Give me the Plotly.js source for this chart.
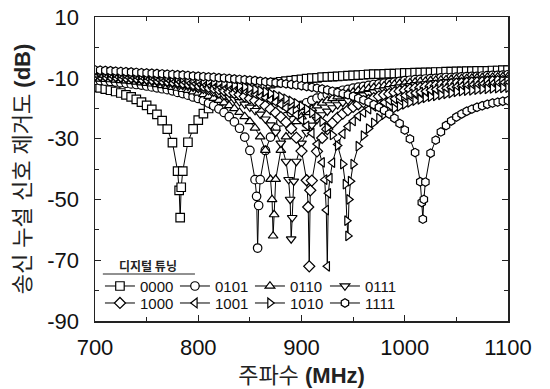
<!DOCTYPE html>
<html><head><meta charset="utf-8">
<script src="https://cdn.plot.ly/plotly-3.0.1.min.js"></script>
<style>html,body{margin:0;padding:0;background:#fff;}#chart{width:550px;height:389px;}</style>
</head><body><div id="chart"></div>
<script>
// Shared frequency grid (MHz)
const freq = [700,705,710,715,720,725,730,735,740,745,750,755,760,765,770,775,780,785,790,795,
800,805,810,815,820,825,830,835,840,845,850,855,860,865,870,875,880,885,890,895,
900,905,910,915,920,925,930,935,940,945,950,955,960,965,970,975,980,985,990,995,
1000,1005,1010,1015,1020,1025,1030,1035,1040,1045,1050,1055,1060,1065,1070,1075,1080,1085,1090,1095,1100];

const s0000 = [-13.1,-13.3,-13.7,-14.1,-14.5,-15.0,-15.6,-16.3,-17.1,-18.0,-19.1,-20.4,-22.0,-24.1,-26.9,-31.3,-40.7,-40.7,-31.2,-26.8,
-23.9,-21.8,-20.1,-18.7,-17.6,-16.6,-15.8,-15.1,-14.5,-13.9,-13.4,-13.0,-12.6,-12.2,-11.9,-11.6,-11.3,-11.1,-10.9,-10.7,
-10.5,-10.3,-10.1,-10.0,-9.8,-9.7,-9.6,-9.5,-9.4,-9.3,-9.2,-9.1,-9.0,-8.9,-8.8,-8.8,-8.7,-8.6,-8.6,-8.5,
-8.4,-8.4,-8.3,-8.3,-8.2,-8.2,-8.1,-8.1,-8.0,-8.0,-7.9,-7.9,-7.8,-7.8,-7.7,-7.7,-7.7,-7.6,-7.6,-7.5,-7.5];
const s0101 = [-10.8,-10.9,-11.1,-11.2,-11.4,-11.6,-11.8,-12.0,-12.2,-12.4,-12.7,-13.0,-13.3,-13.6,-13.9,-14.3,-14.8,-15.2,-15.7,-16.3,
-16.8,-17.5,-18.3,-19.2,-20.2,-21.4,-22.8,-24.5,-26.6,-29.5,-33.9,-43.5,-43.5,-33.9,-29.5,-26.6,-24.5,-22.8,-21.4,-20.2,
-19.1,-18.2,-17.4,-16.7,-16.1,-15.5,-15.0,-14.6,-14.1,-13.8,-13.4,-13.1,-12.8,-12.5,-12.2,-12.0,-11.8,-11.6,-11.4,-11.2,
-10.9,-10.8,-10.6,-10.5,-10.4,-10.3,-10.2,-10.0,-9.9,-9.9,-9.8,-9.7,-9.6,-9.5,-9.5,-9.4,-9.3,-9.2,-9.2,-9.1,-9.0];
const s0110 = [-10.2,-10.4,-10.5,-10.6,-10.7,-10.9,-11.0,-11.2,-11.4,-11.6,-11.8,-12.0,-12.2,-12.5,-12.8,-13.1,-13.4,-13.8,-14.1,-14.6,
-15.0,-15.5,-16.1,-16.7,-17.4,-18.2,-19.1,-20.1,-21.3,-22.7,-24.4,-26.5,-29.4,-33.8,-43.4,-43.4,-33.8,-29.4,-26.5,-24.4,
-22.8,-21.4,-20.2,-19.2,-18.3,-17.5,-16.8,-16.2,-15.6,-15.1,-14.7,-14.2,-13.9,-13.5,-13.2,-12.9,-12.6,-12.3,-12.1,-11.9,
-11.8,-11.6,-11.4,-11.2,-11.1,-10.9,-10.8,-10.7,-10.6,-10.5,-10.3,-10.2,-10.2,-10.1,-10.0,-9.9,-9.8,-9.8,-9.7,-9.6,-9.6];
const s0111 = [-9.6,-9.7,-9.8,-9.9,-10.0,-10.2,-10.3,-10.4,-10.6,-10.8,-10.9,-11.1,-11.3,-11.5,-11.7,-12.0,-12.3,-12.5,-12.8,-13.1,
-13.5,-13.8,-14.2,-14.7,-15.3,-15.8,-16.4,-17.1,-17.9,-18.7,-19.7,-20.8,-22.0,-23.6,-25.5,-27.9,-31.5,-37.5,-63.0,-37.5,
-31.5,-28.0,-25.6,-23.7,-22.2,-21.0,-19.9,-18.9,-18.1,-17.4,-16.7,-16.1,-15.7,-15.2,-14.7,-14.3,-14.0,-13.6,-13.3,-13.0,
-12.8,-12.6,-12.3,-12.1,-12.0,-11.8,-11.6,-11.5,-11.3,-11.2,-11.1,-10.9,-10.9,-10.7,-10.6,-10.5,-10.5,-10.4,-10.3,-10.3,-10.2];
const s1000 = [-9.0,-9.1,-9.2,-9.3,-9.4,-9.5,-9.7,-9.8,-9.9,-10.1,-10.2,-10.4,-10.5,-10.7,-10.9,-11.1,-11.3,-11.6,-11.8,-12.1,
-12.3,-12.6,-13.0,-13.3,-13.7,-14.1,-14.6,-15.0,-15.5,-16.1,-16.8,-17.5,-18.3,-19.2,-20.3,-21.5,-22.9,-24.6,-26.7,-29.7,
-34.1,-43.7,-43.8,-34.2,-29.8,-26.9,-24.8,-23.1,-21.8,-20.6,-19.6,-18.7,-18.0,-17.3,-16.7,-16.1,-15.6,-15.3,-14.8,-14.4,
-14.1,-13.8,-13.5,-13.3,-13.0,-12.8,-12.6,-12.4,-12.3,-12.1,-11.9,-11.8,-11.7,-11.6,-11.5,-11.4,-11.3,-11.2,-11.1,-11.1,-11.0];
const s1001 = [-8.5,-8.6,-8.7,-8.8,-8.9,-9.0,-9.1,-9.2,-9.3,-9.4,-9.6,-9.7,-9.9,-10.0,-10.2,-10.4,-10.6,-10.8,-11.0,-11.2,
-11.4,-11.6,-11.9,-12.2,-12.5,-12.8,-13.1,-13.5,-13.8,-14.3,-14.8,-15.3,-15.9,-16.5,-17.2,-18.0,-18.8,-19.9,-21.0,-22.2,
-23.9,-25.8,-28.2,-31.8,-37.8,-72.0,-37.9,-31.9,-28.4,-26.0,-24.2,-22.6,-21.4,-20.3,-19.4,-18.6,-18.1,-17.4,-16.9,-16.3,
-15.8,-15.3,-15.0,-14.7,-14.4,-14.1,-13.8,-13.6,-13.4,-13.2,-13.0,-12.8,-12.7,-12.6,-12.5,-12.3,-12.2,-12.1,-12.0,-11.9,-11.8];
const s1010 = [-8.0,-8.1,-8.2,-8.3,-8.4,-8.5,-8.6,-8.7,-8.8,-9.0,-9.1,-9.2,-9.3,-9.5,-9.6,-9.8,-9.9,-10.1,-10.3,-10.5,
-10.7,-10.9,-11.1,-11.3,-11.6,-11.8,-12.1,-12.4,-12.7,-13.0,-13.4,-13.8,-14.2,-14.6,-15.2,-15.7,-16.2,-16.9,-17.6,-18.4,
-19.3,-20.3,-21.5,-22.8,-24.4,-26.4,-28.8,-32.3,-38.4,-62.0,-38.4,-32.5,-29.0,-26.7,-24.8,-23.3,-22.1,-21.1,-20.1,-19.4,
-18.7,-18.1,-17.5,-17.1,-16.6,-16.2,-15.9,-15.6,-15.3,-15.0,-14.6,-14.4,-14.2,-14.1,-13.9,-13.7,-13.6,-13.5,-13.4,-13.3,-13.2];
const s1111 = [-7.4,-7.5,-7.6,-7.7,-7.8,-7.9,-8.0,-8.1,-8.2,-8.3,-8.4,-8.5,-8.6,-8.7,-8.8,-8.9,-9.0,-9.1,-9.2,-9.4,
-9.5,-9.6,-9.7,-9.8,-10.0,-10.1,-10.2,-10.4,-10.5,-10.6,-10.8,-10.9,-11.1,-11.3,-11.4,-11.6,-11.8,-12.0,-12.2,-12.4,
-12.6,-12.9,-13.1,-13.4,-13.7,-14.0,-14.4,-14.8,-15.2,-15.6,-16.1,-16.7,-17.3,-18.0,-18.8,-19.7,-20.7,-21.9,-23.3,-25.0,
-27.2,-30.1,-34.6,-44.2,-44.3,-34.8,-30.5,-27.8,-25.7,-24.2,-22.9,-21.9,-21.0,-20.3,-19.7,-19.2,-18.7,-18.3,-18.0,-17.7,-17.5];

// Extra points measured inside each notch
const notchFreq0000 = [781.5, 782.5, 783.5];   const notchVal0000 = [-47, -56, -46];
const notchFreq0101 = [856.5, 857.5, 858.5];   const notchVal0101 = [-49, -66, -52];
const notchFreq0110 = [871.5, 872.5, 873.5];   const notchVal0110 = [-50, -62, -55];
const notchFreq0111 = [887.5, 889, 891, 892.5]; const notchVal0111 = [-43.5, -50, -56, -44];
const notchFreq1000 = [906.5, 907.5, 908.5];   const notchVal1000 = [-52.5, -72, -47];
const notchFreq1001 = [922.5, 924, 926, 927.5]; const notchVal1001 = [-43.5, -53.5, -48, -43];
const notchFreq1010 = [942.5, 944, 946, 947.5]; const notchVal1010 = [-45, -57, -50, -44];
const notchFreq1111 = [1016.5, 1017.5, 1018.5]; const notchVal1111 = [-51, -56.5, -50];

const seriesNames = ['0000','0101','0110','0111','1000','1001','1010','1111'];
const seriesVals = [s0000,s0101,s0110,s0111,s1000,s1001,s1010,s1111];
const notchFreqs = [notchFreq0000,notchFreq0101,notchFreq0110,notchFreq0111,notchFreq1000,notchFreq1001,notchFreq1010,notchFreq1111];
const notchVals = [notchVal0000,notchVal0101,notchVal0110,notchVal0111,notchVal1000,notchVal1001,notchVal1010,notchVal1111];

const xTickVals = [700,800,900,1000,1100];
const xTickText = ['700','800','900','1000','1100'];
const xMinorVals = [750,850,950,1050];
const yTickVals = [10,-10,-30,-50,-70,-90];
const yTickText = ['10','-10','-30','-50','-70','-90'];
const yMinorVals = [0,-20,-40,-60,-80];

const symbols = ['square','circle','triangle-up','triangle-down','diamond','triangle-left','triangle-right','hexagon'];

function mergeSorted(xa, ya, nx, ny) {
  const pts = xa.map((x, i) => [x, ya[i]]).concat(nx.map((x, i) => [x, ny[i]]));
  pts.sort((a, b) => a[0] - b[0]);
  return {x: pts.map(p => p[0]), y: pts.map(p => p[1])};
}

const traces = seriesNames.map((name, i) => {
  const m = mergeSorted(freq, seriesVals[i], notchFreqs[i], notchVals[i]);
  return {
    type: 'scatter', mode: 'lines+markers', name: name,
    x: m.x, y: m.y,
    legend: i < 4 ? 'legend' : 'legend2',
    line: {color: '#000', width: 1},
    marker: {symbol: symbols[i], size: 8.5, color: '#fff', line: {color: '#000', width: 1.2}}
  };
});

const fontLat = "'Liberation Sans', Arial, 'Noto Sans CJK KR', sans-serif";
const axisCommon = {
  ticks: 'inside', ticklen: 6, tickwidth: 1, tickcolor: '#222',
  showline: true, linecolor: '#222', linewidth: 1.5, mirror: 'ticks',
  showgrid: false, zeroline: false,
  tickfont: {size: 22, family: fontLat, color: '#111'}
};

const legendCommon = {
  orientation: 'h', xanchor: 'left', yanchor: 'top', x: 0.012,
  bgcolor: 'rgba(0,0,0,0)', borderwidth: 0,
  font: {size: 15, family: fontLat, color: '#111'},
  entrywidth: 30, entrywidthmode: 'pixels', tracegroupgap: 0
};

const layout = {
  width: 550, height: 389,
  margin: {l: 95, r: 42, t: 17, b: 68, pad: 0},
  paper_bgcolor: '#fff', plot_bgcolor: '#fff',
  font: {family: fontLat, color: '#111'},
  showlegend: true,
  xaxis: Object.assign({}, axisCommon, {
    range: [700, 1100], tickmode: 'array', tickvals: xTickVals, ticktext: xTickText,
    minor: {tickmode: 'array', tickvals: xMinorVals, ticks: 'inside', ticklen: 4, tickcolor: '#222', showgrid: false},
    ticklabelstandoff: 6,
    title: {text: '주파수 <b>(MHz)</b>', font: {size: 22, family: fontLat, color: '#222'}, standoff: 8}
  }),
  yaxis: Object.assign({}, axisCommon, {
    range: [-90, 10], tickmode: 'array', tickvals: yTickVals, ticktext: yTickText,
    minor: {tickmode: 'array', tickvals: yMinorVals, ticks: 'inside', ticklen: 4, tickcolor: '#222', showgrid: false},
    ticklabelstandoff: 10,
    title: {text: '송신 누설 신호 제거도 <b>(dB)</b>', font: {size: 22, family: fontLat, color: '#222'}, standoff: 10}
  }),
  legend: Object.assign({}, legendCommon, {y: 0.1686}),
  legend2: Object.assign({}, legendCommon, {y: 0.1127}),
  annotations: [{
    text: '<b>디지털 튜닝</b>', xref: 'paper', yref: 'paper', x: 0.128, y: 0.184,
    xanchor: 'center', yanchor: 'middle', showarrow: false,
    font: {size: 12, family: "'Noto Sans CJK KR', sans-serif", color: '#222'}
  }],
  shapes: [{
    type: 'line', xref: 'paper', yref: 'paper', x0: 0.019, x1: 0.242, y0: 0.1546, y1: 0.1546,
    line: {color: '#222', width: 1}
  }]
};

Plotly.newPlot('chart', traces, layout, {displayModeBar: false, staticPlot: true});
</script>
</body></html>
